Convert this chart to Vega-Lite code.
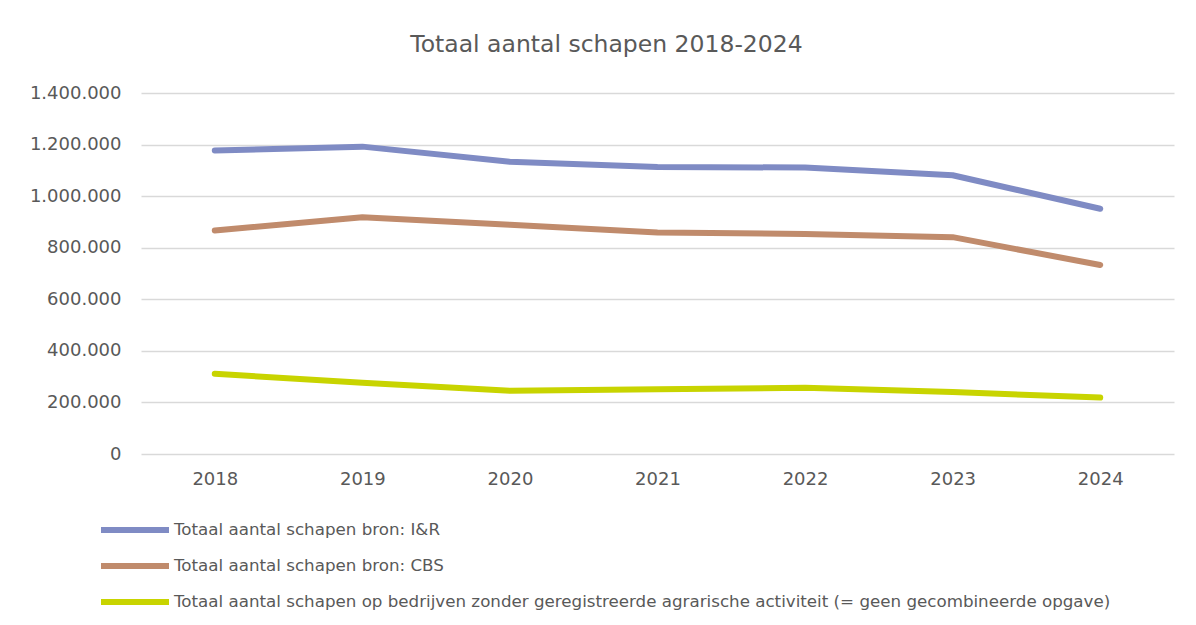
{
  "$schema": "https://vega.github.io/schema/vega-lite/v6.json",
  "autosize": "none",
  "width": 1033,
  "height": 361,
  "padding": {"left": 141, "top": 93, "right": 22, "bottom": 171},
  "background": "white",
  "title": {
    "text": "Totaal aantal schapen 2018-2024",
    "font": "DejaVu Sans",
    "fontSize": 23.5,
    "fontWeight": "normal",
    "color": "#595959",
    "anchor": "middle",
    "dx": -51,
    "offset": 28
  },
  "data": {
    "values": [
      {"jaar": "2018", "reeks": "Totaal aantal schapen bron: I&R", "aantal": 1177000},
      {"jaar": "2019", "reeks": "Totaal aantal schapen bron: I&R", "aantal": 1192000},
      {"jaar": "2020", "reeks": "Totaal aantal schapen bron: I&R", "aantal": 1133000},
      {"jaar": "2021", "reeks": "Totaal aantal schapen bron: I&R", "aantal": 1113000},
      {"jaar": "2022", "reeks": "Totaal aantal schapen bron: I&R", "aantal": 1111000},
      {"jaar": "2023", "reeks": "Totaal aantal schapen bron: I&R", "aantal": 1081000},
      {"jaar": "2024", "reeks": "Totaal aantal schapen bron: I&R", "aantal": 951000},
      {"jaar": "2018", "reeks": "Totaal aantal schapen bron: CBS", "aantal": 867000},
      {"jaar": "2019", "reeks": "Totaal aantal schapen bron: CBS", "aantal": 918000},
      {"jaar": "2020", "reeks": "Totaal aantal schapen bron: CBS", "aantal": 889000},
      {"jaar": "2021", "reeks": "Totaal aantal schapen bron: CBS", "aantal": 859000},
      {"jaar": "2022", "reeks": "Totaal aantal schapen bron: CBS", "aantal": 853000},
      {"jaar": "2023", "reeks": "Totaal aantal schapen bron: CBS", "aantal": 841000},
      {"jaar": "2024", "reeks": "Totaal aantal schapen bron: CBS", "aantal": 733000},
      {"jaar": "2018", "reeks": "Totaal aantal schapen op bedrijven zonder geregistreerde agrarische activiteit (= geen gecombineerde opgave)", "aantal": 311000},
      {"jaar": "2019", "reeks": "Totaal aantal schapen op bedrijven zonder geregistreerde agrarische activiteit (= geen gecombineerde opgave)", "aantal": 276000},
      {"jaar": "2020", "reeks": "Totaal aantal schapen op bedrijven zonder geregistreerde agrarische activiteit (= geen gecombineerde opgave)", "aantal": 245000},
      {"jaar": "2021", "reeks": "Totaal aantal schapen op bedrijven zonder geregistreerde agrarische activiteit (= geen gecombineerde opgave)", "aantal": 251000},
      {"jaar": "2022", "reeks": "Totaal aantal schapen op bedrijven zonder geregistreerde agrarische activiteit (= geen gecombineerde opgave)", "aantal": 257000},
      {"jaar": "2023", "reeks": "Totaal aantal schapen op bedrijven zonder geregistreerde agrarische activiteit (= geen gecombineerde opgave)", "aantal": 240000},
      {"jaar": "2024", "reeks": "Totaal aantal schapen op bedrijven zonder geregistreerde agrarische activiteit (= geen gecombineerde opgave)", "aantal": 219000}
    ]
  },
  "config": {
    "view": {"stroke": null},
    "font": "DejaVu Sans"
  },
  "mark": {"type": "line", "strokeWidth": 6, "strokeCap": "round", "strokeJoin": "round"},
  "encoding": {
    "x": {
      "field": "jaar",
      "type": "ordinal",
      "scale": {"type": "point", "padding": 0.5},
      "axis": {
        "title": null,
        "labelAngle": 0,
        "labelFontSize": 18,
        "labelColor": "#595959",
        "labelPadding": 16,
        "ticks": false,
        "domain": false,
        "grid": false
      }
    },
    "y": {
      "field": "aantal",
      "type": "quantitative",
      "scale": {"domain": [0, 1400000], "nice": false},
      "axis": {
        "title": null,
        "values": [0, 200000, 400000, 600000, 800000, 1000000, 1200000, 1400000],
        "labelExpr": "replace(format(datum.value, ','), /,/g, '.')",
        "labelFontSize": 18,
        "labelColor": "#595959",
        "labelPadding": 20,
        "ticks": false,
        "domain": false,
        "grid": true,
        "gridColor": "#D9D9D9",
        "gridWidth": 1.5
      }
    },
    "color": {
      "field": "reeks",
      "type": "nominal",
      "sort": [
        "Totaal aantal schapen bron: I&R",
        "Totaal aantal schapen bron: CBS",
        "Totaal aantal schapen op bedrijven zonder geregistreerde agrarische activiteit (= geen gecombineerde opgave)"
      ],
      "scale": {
        "domain": [
          "Totaal aantal schapen bron: I&R",
          "Totaal aantal schapen bron: CBS",
          "Totaal aantal schapen op bedrijven zonder geregistreerde agrarische activiteit (= geen gecombineerde opgave)"
        ],
        "range": ["#7F8BC4", "#C08B6C", "#C8D400"]
      },
      "legend": {
        "title": null,
        "orient": "none",
        "legendX": -43,
        "legendY": 427,
        "direction": "vertical",
        "symbolType": "stroke",
        "symbolSize": 4624,
        "symbolStrokeWidth": 6,
        "clipHeight": 20,
        "labelFontSize": 16.7,
        "labelColor": "#595959",
        "labelOffset": 2,
        "labelLimit": 1100,
        "rowPadding": 16
      }
    }
  }
}
